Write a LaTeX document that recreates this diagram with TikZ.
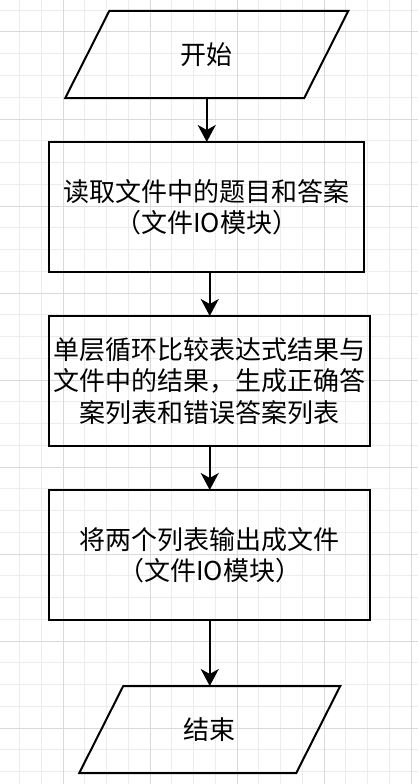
\documentclass[tikz,border=0pt]{standalone}
\usepackage{fontspec}
\setmainfont{Noto Sans CJK SC}
\usetikzlibrary{positioning, arrows.meta}

\begin{document}
\begin{tikzpicture}[x=1pt, y=-1pt, node distance={44pt}, line width=2pt,
        box/.style = {draw, rectangle, minimum height=130pt, inner sep=0pt, outer sep=0pt, align=center, font=\fontsize{26pt}{31.5pt}\selectfont},
        io/.style = {rectangle, minimum height=87pt, inner sep=0pt, outer sep=0pt, font=\fontsize{26pt}{31.5pt}\selectfont},
        arrow/.style = {-{Stealth[length=17pt, width=18pt, inset=5pt]}},
        minorline/.style = {gray!15, line width=1pt},
        majorline/.style = {gray!30, line width=1pt}]
        \useasboundingbox (0,0) rectangle (418,784);
        % background grid
        \fill[white] (0,0) rectangle (418,784);
        \foreach \i in {1,...,19} \draw[minorline] ({-2.25+21.75*\i},0) -- ++(0,784);
        \foreach \i in {0,...,35} \draw[minorline] (0,{10.25+21.75*\i}) -- ++(418,0);
        \foreach \i in {0,...,4} \draw[majorline] ({63+87*\i},0) -- ++(0,784);
        \foreach \i in {0,...,8} \draw[majorline] (0,{32+87*\i}) -- ++(418,0);
        % flow
        \node[io, minimum width=239pt] (start) at (206.75,54.5) {开始};
        \node[box, minimum width=315pt] (read) [below=of start] {读取文件中的题目和答案\\（文件IO模块）};
        \node[box, minimum width=321pt] (compare) [below right=44pt and 0pt of read.south west] {单层循环比较表达式结果与\\文件中的结果，生成正确答\\案列表和错误答案列表};
        \node[box, minimum width=321pt] (output) [below=of compare] {将两个列表输出成文件\\（文件IO模块）};
        \node[io, minimum width=217pt] (end) [below=66pt of output] {结束};
        % parallelograms
        \foreach \n in {start, end}
            \draw ([xshift=22pt]\n.north west) -- ([xshift=22pt]\n.north east) -- ([xshift=-22pt]\n.south east) -- ([xshift=-22pt]\n.south west) -- cycle;
        \draw[arrow] (start) -- (read);
        \draw[arrow] (read.south -| compare.north) -- (compare.north);
        \draw[arrow] (compare) -- (output);
        \draw[arrow] (output) -- (end);
    \end{tikzpicture}
\end{document}
